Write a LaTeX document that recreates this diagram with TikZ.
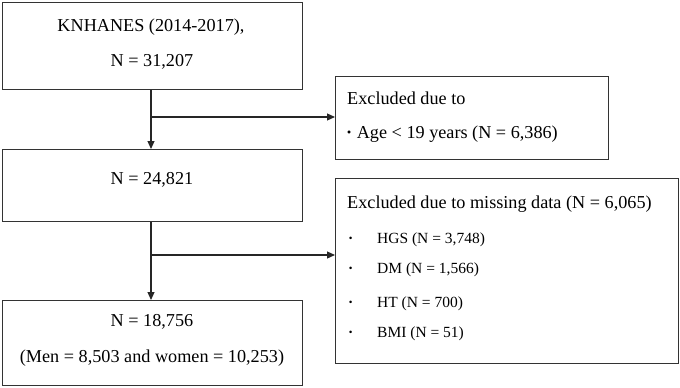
\documentclass[tikz,border=0pt]{standalone}
\usepackage{fontspec}
\setmainfont{Liberation Serif}
\usetikzlibrary{arrows.meta}
\begin{document}
\begin{tikzpicture}[x=1pt,y=-1pt,
  box/.style={draw=black!80, line width=1.2pt, rectangle, inner sep=0pt, anchor=north west},
  txt/.style={inner sep=0pt, font=\fontsize{18.2}{21}\selectfont},
  stxt/.style={inner sep=0pt, font=\fontsize{15.5}{18}\selectfont},
  arr/.style={line width=1.2pt, draw=black!85, -{Triangle[length=8pt,width=7pt]}}]
\useasboundingbox (0,0) rectangle (680,388);
% left boxes
\node[box, minimum width=300pt, minimum height=87pt] (b1) at (2,2) {};
\node[box, minimum width=300pt, minimum height=72pt] (b2) at (2,149) {};
\node[box, minimum width=300pt, minimum height=85pt] (b3) at (2,300) {};
% right boxes
\node[box, minimum width=273pt, minimum height=83pt] (r1) at (335,76) {};
\node[box, minimum width=343pt, minimum height=185pt] (r2) at (335,178) {};
% texts
\node[txt] (t1) at (151,27) {KNHANES (2014-2017),};
\node[txt] (t2) at (152,62) {N = 31,207};
\node[txt] (t3) at (152,180) {N = 24,821};
\node[txt] (t4) at (152,322) {N = 18,756};
\node[txt] (t5) at (152,358) {(Men = 8,503 and women = 10,253)};
\node[txt, anchor=west] (e1) at (347,98) {Excluded due to};
\node[txt, anchor=west] (e2) at (346,134) {\textbf{·} Age < 19 years (N = 6,386)};
\node[txt, anchor=west] (m0) at (347,204) {Excluded due to missing data (N = 6,065)};
\node[stxt, anchor=west] (m1b) at (348,240) {\textbf{·}};
\node[stxt, anchor=west] (m1) at (377,240) {HGS (N = 3,748)};
\node[stxt, anchor=west] (m2b) at (348,270) {\textbf{·}};
\node[stxt, anchor=west] (m2) at (377,270) {DM (N = 1,566)};
\node[stxt, anchor=west] (m3b) at (348,304) {\textbf{·}};
\node[stxt, anchor=west] (m3) at (377,304) {HT (N = 700)};
\node[stxt, anchor=west] (m4b) at (348,334) {\textbf{·}};
\node[stxt, anchor=west] (m4) at (377,334) {BMI (N = 51)};
% connectors
\coordinate (j1) at (151,117);
\coordinate (j2) at (151,255);
\draw[arr] (b1.south -| j1) -- (b2.north -| j1);
\draw[arr] (j1) -- (r1.west |- j1);
\draw[arr] (b2.south -| j2) -- (b3.north -| j2);
\draw[arr] (j2) -- (r2.west |- j2);
\end{tikzpicture}
\end{document}
